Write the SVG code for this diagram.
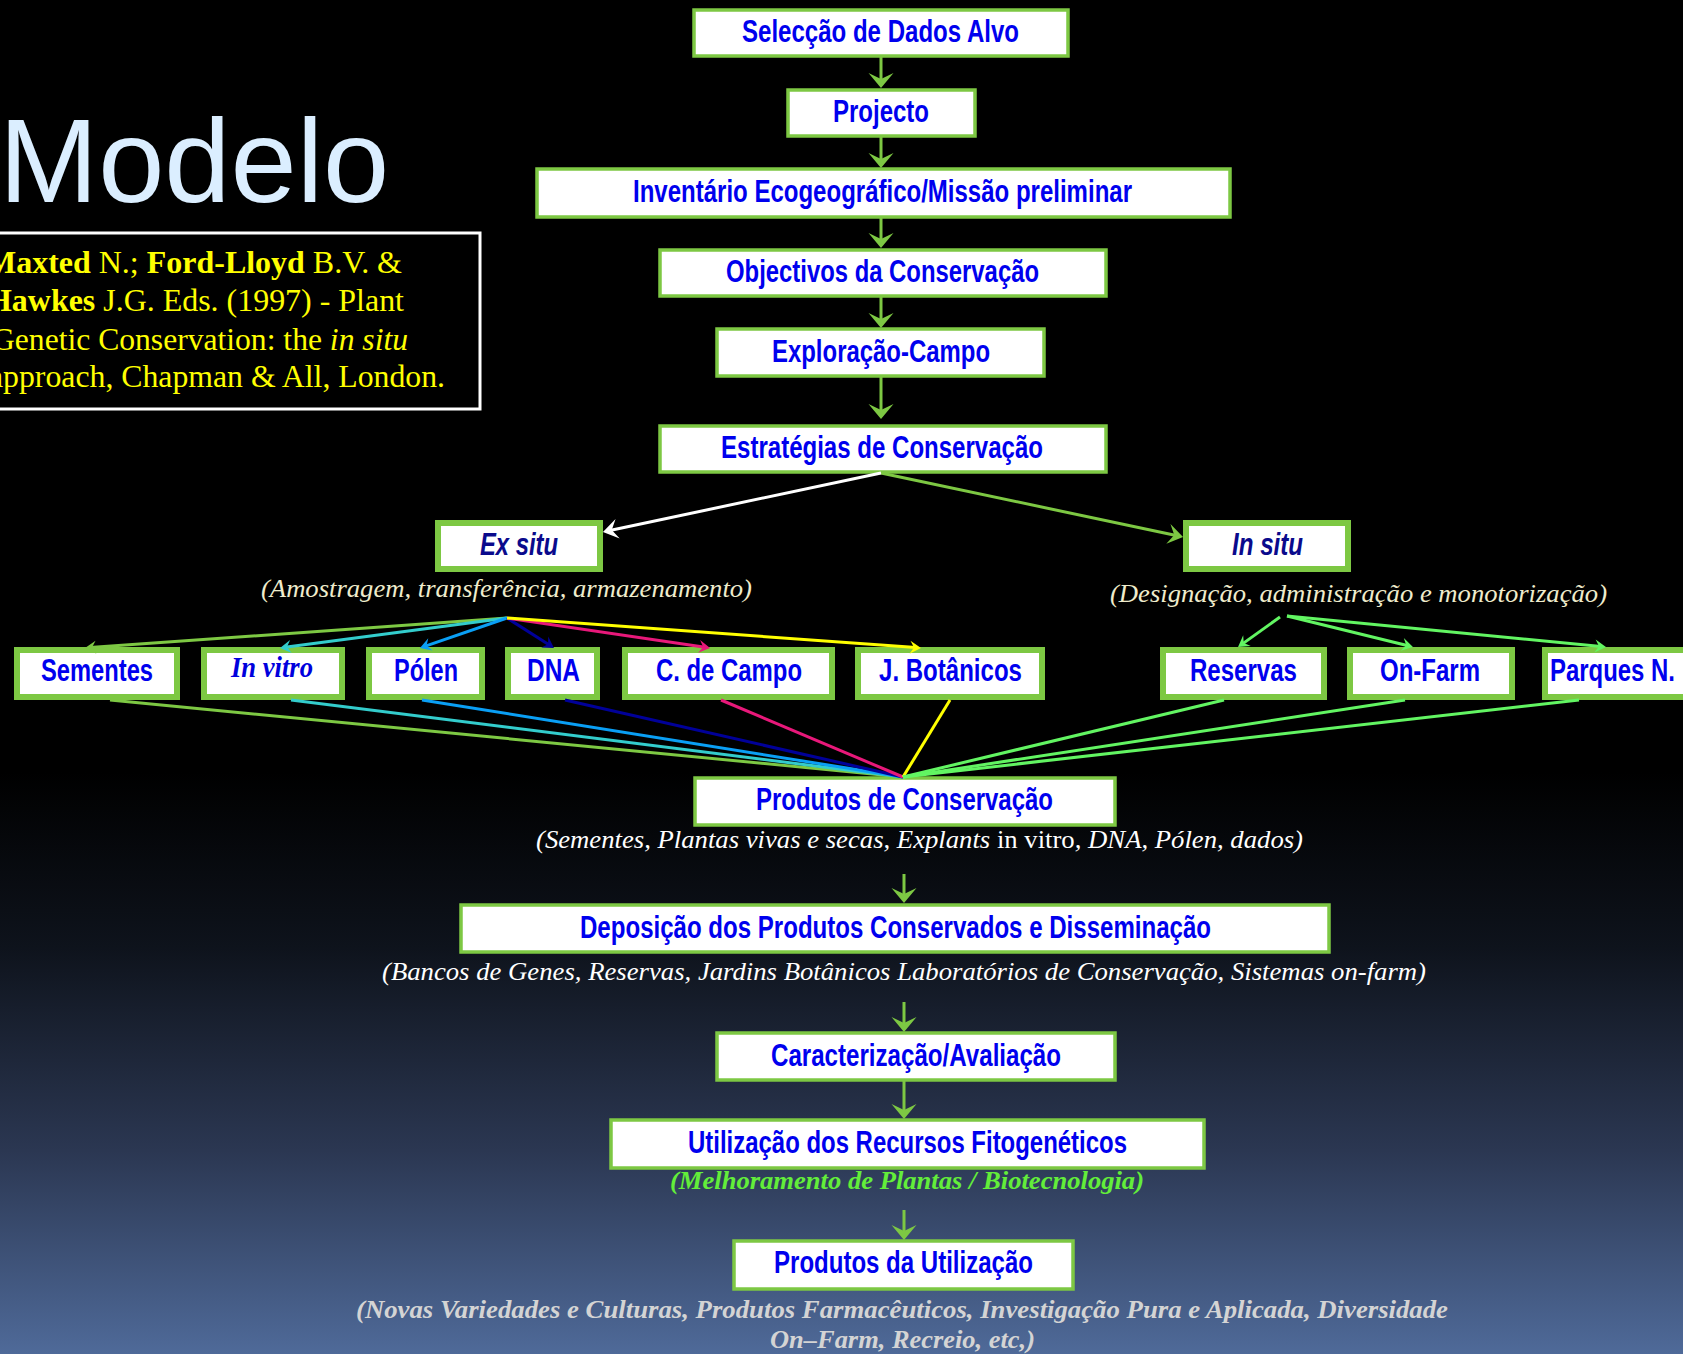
<svg xmlns="http://www.w3.org/2000/svg" width="1683" height="1354" viewBox="0 0 1683 1354">
<defs>
<linearGradient id="bg" x1="0" y1="0" x2="0" y2="1">
<stop offset="0" stop-color="#000000"/>
<stop offset="0.57" stop-color="#000000"/>
<stop offset="0.7" stop-color="#0e131c"/>
<stop offset="0.85" stop-color="#2b3752"/>
<stop offset="1" stop-color="#4f6a99"/>
</linearGradient>
<marker id="aBig" markerUnits="userSpaceOnUse" viewBox="-16 -13 17 26" markerWidth="17" markerHeight="26" refX="-8" refY="0" orient="auto"><path d="M0,0 L-15,-12.5 L-9,0 L-15,12.5 Z" fill="#7dc843"/></marker>
<marker id="aMedW" markerUnits="userSpaceOnUse" viewBox="-16 -11 17 22" markerWidth="17" markerHeight="22" refX="-7" refY="0" orient="auto"><path d="M0,0 L-15,-10 L-9,0 L-15,10 Z" fill="#ffffff"/></marker>
<marker id="aMedG" markerUnits="userSpaceOnUse" viewBox="-16 -11 17 22" markerWidth="17" markerHeight="22" refX="-7" refY="0" orient="auto"><path d="M0,0 L-15,-10 L-9,0 L-15,10 Z" fill="#7dc843"/></marker>
<marker id="sG" markerUnits="userSpaceOnUse" viewBox="-12 -8 13 16" markerWidth="13" markerHeight="16" refX="-5" refY="0" orient="auto"><path d="M0,0 L-11,-6.5 L-7,0 L-11,6.5 Z" fill="#7dc843"/></marker>
<marker id="sC" markerUnits="userSpaceOnUse" viewBox="-12 -8 13 16" markerWidth="13" markerHeight="16" refX="-5" refY="0" orient="auto"><path d="M0,0 L-11,-6.5 L-7,0 L-11,6.5 Z" fill="#33cccc"/></marker>
<marker id="sB" markerUnits="userSpaceOnUse" viewBox="-12 -8 13 16" markerWidth="13" markerHeight="16" refX="-5" refY="0" orient="auto"><path d="M0,0 L-11,-6.5 L-7,0 L-11,6.5 Z" fill="#0a9ff5"/></marker>
<marker id="sN" markerUnits="userSpaceOnUse" viewBox="-12 -8 13 16" markerWidth="13" markerHeight="16" refX="-5" refY="0" orient="auto"><path d="M0,0 L-11,-6.5 L-7,0 L-11,6.5 Z" fill="#000099"/></marker>
<marker id="sM" markerUnits="userSpaceOnUse" viewBox="-12 -8 13 16" markerWidth="13" markerHeight="16" refX="-5" refY="0" orient="auto"><path d="M0,0 L-11,-6.5 L-7,0 L-11,6.5 Z" fill="#e8187a"/></marker>
<marker id="sY" markerUnits="userSpaceOnUse" viewBox="-12 -8 13 16" markerWidth="13" markerHeight="16" refX="-5" refY="0" orient="auto"><path d="M0,0 L-11,-6.5 L-7,0 L-11,6.5 Z" fill="#ffff00"/></marker>
<marker id="sL" markerUnits="userSpaceOnUse" viewBox="-12 -8 13 16" markerWidth="13" markerHeight="16" refX="-5" refY="0" orient="auto"><path d="M0,0 L-11,-6.5 L-7,0 L-11,6.5 Z" fill="#62f562"/></marker>
</defs>
<style>
.box{fill:#ffffff;stroke:#7dc843;stroke-width:3.5}
.thick{stroke-width:6}
.lbl{font-family:"Liberation Sans Narrow","Liberation Sans",Arial,sans-serif;font-weight:bold;font-size:31px;fill:#0000ee}
.navy{fill:#0a0a8c;font-style:italic}
.cap{font-family:"Liberation Serif","Times New Roman",serif;font-style:italic;font-size:26px}
.cite{font-family:"Liberation Serif","Times New Roman",serif;font-size:32px;fill:#ffff00}
.ln{fill:none;stroke-width:3}
</style>
<rect x="0" y="0" width="1683" height="1354" fill="url(#bg)"/>

<g id="title">
<text x="-1" y="202" font-family="Liberation Sans, Arial, sans-serif" font-size="119" fill="#dbeeff">Modelo</text>
</g>

<g id="citation">
<rect x="-10" y="233" width="490" height="176" fill="#000000" stroke="#ffffff" stroke-width="3"/>
<text class="cite" x="-14" y="273" textLength="416" lengthAdjust="spacingAndGlyphs"><tspan font-weight="bold">Maxted</tspan> N.; <tspan font-weight="bold">Ford-Lloyd</tspan> B.V. &amp;</text>
<text class="cite" x="-13" y="311" textLength="417" lengthAdjust="spacingAndGlyphs"><tspan font-weight="bold">Hawkes</tspan> J.G. Eds. (1997) - Plant</text>
<text class="cite" x="-8" y="350" textLength="416" lengthAdjust="spacingAndGlyphs">Genetic Conservation: the <tspan font-style="italic">in situ</tspan></text>
<text class="cite" x="-11" y="387" textLength="456" lengthAdjust="spacingAndGlyphs">approach, Chapman &amp; All, London.</text>
</g>

<g id="n1"><rect class="box" x="694" y="10" width="374" height="46"/><text class="lbl" x="742" y="42" textLength="277" lengthAdjust="spacingAndGlyphs">Selecção de Dados Alvo</text></g>
<g id="n2"><rect class="box" x="788" y="90" width="187" height="46"/><text class="lbl" x="833" y="122" textLength="96" lengthAdjust="spacingAndGlyphs">Projecto</text></g>
<g id="n3"><rect class="box" x="537" y="169" width="693" height="48"/><text class="lbl" x="633" y="202" textLength="499" lengthAdjust="spacingAndGlyphs">Inventário Ecogeográfico/Missão preliminar</text></g>
<g id="n4"><rect class="box" x="660" y="250" width="446" height="46"/><text class="lbl" x="726" y="282" textLength="313" lengthAdjust="spacingAndGlyphs">Objectivos da Conservação</text></g>
<g id="n5"><rect class="box" x="717" y="329" width="327" height="47"/><text class="lbl" x="772" y="362" textLength="218" lengthAdjust="spacingAndGlyphs">Exploração-Campo</text></g>
<g id="n6"><rect class="box" x="660" y="426" width="446" height="46"/><text class="lbl" x="721" y="458" textLength="322" lengthAdjust="spacingAndGlyphs">Estratégias de Conservação</text></g>

<g id="exsitu"><rect class="box thick" x="438" y="523" width="162" height="46"/><text class="lbl navy" x="480" y="555" textLength="78" lengthAdjust="spacingAndGlyphs">Ex situ</text>
<text class="cap" x="261" y="597" fill="#efeccc" textLength="491" lengthAdjust="spacingAndGlyphs">(Amostragem, transferência, armazenamento)</text></g>
<g id="insitu"><rect class="box thick" x="1186" y="523" width="162" height="46"/><text class="lbl navy" x="1232" y="555" textLength="71" lengthAdjust="spacingAndGlyphs">In situ</text>
<text class="cap" x="1110" y="602" fill="#efeccc" textLength="497" lengthAdjust="spacingAndGlyphs">(Designação, administração e monotorização)</text></g>

<g id="sementes"><rect class="box thick" x="17" y="650" width="160" height="47"/><text class="lbl" x="41" y="681" textLength="112" lengthAdjust="spacingAndGlyphs">Sementes</text></g>
<g id="invitro"><rect class="box thick" x="204" y="650" width="138" height="47" stroke="#33cccc"/><text x="231" y="677" font-family="Liberation Serif, Times New Roman, serif" font-style="italic" font-weight="bold" font-size="30" fill="#0000dd" textLength="82" lengthAdjust="spacingAndGlyphs">In vitro</text></g>
<g id="polen"><rect class="box thick" x="369" y="650" width="113" height="47" stroke="#0a9ff5"/><text class="lbl" x="394" y="681" textLength="64" lengthAdjust="spacingAndGlyphs">Pólen</text></g>
<g id="dna"><rect class="box thick" x="508" y="650" width="89" height="47" stroke="#000099"/><text class="lbl" x="527" y="681" textLength="53" lengthAdjust="spacingAndGlyphs">DNA</text></g>
<g id="ccampo"><rect class="box thick" x="625" y="650" width="207" height="47" stroke="#e8187a"/><text class="lbl" x="656" y="681" textLength="146" lengthAdjust="spacingAndGlyphs">C. de Campo</text></g>
<g id="jbot"><rect class="box thick" x="858" y="650" width="184" height="47" stroke="#ffff00"/><text class="lbl" x="879" y="681" textLength="143" lengthAdjust="spacingAndGlyphs">J. Botânicos</text></g>
<g id="reservas"><rect class="box thick" x="1163" y="650" width="161" height="47" stroke="#62f562"/><text class="lbl" x="1190" y="681" textLength="107" lengthAdjust="spacingAndGlyphs">Reservas</text></g>
<g id="onfarm"><rect class="box thick" x="1350" y="650" width="162" height="47" stroke="#62f562"/><text class="lbl" x="1380" y="681" textLength="100" lengthAdjust="spacingAndGlyphs">On-Farm</text></g>
<g id="parques"><rect class="box thick" x="1545" y="650" width="150" height="47" stroke="#62f562"/><text class="lbl" x="1550" y="681" textLength="125" lengthAdjust="spacingAndGlyphs">Parques N.</text></g>

<g id="prodcons"><rect class="box" x="695" y="778" width="420" height="47" stroke-width="5.5"/><text class="lbl" x="756" y="810" textLength="297" lengthAdjust="spacingAndGlyphs">Produtos de Conservação</text>
<text class="cap" x="536" y="848" fill="#ffffff" textLength="767" lengthAdjust="spacingAndGlyphs">(Sementes, Plantas vivas e secas, Explants <tspan font-style="normal">in vitro</tspan>, DNA, Pólen, dados)</text></g>
<g id="deposicao"><rect class="box" x="461" y="905" width="868" height="47"/><text class="lbl" x="580" y="938" textLength="631" lengthAdjust="spacingAndGlyphs">Deposição dos Produtos Conservados e Disseminação</text>
<text class="cap" x="382" y="980" fill="#ffffff" textLength="1044" lengthAdjust="spacingAndGlyphs">(Bancos de Genes, Reservas, Jardins Botânicos Laboratórios de Conservação, Sistemas on-farm)</text></g>
<g id="caract"><rect class="box" x="717" y="1033" width="398" height="47"/><text class="lbl" x="771" y="1066" textLength="290" lengthAdjust="spacingAndGlyphs">Caracterização/Avaliação</text></g>
<g id="utilizacao"><rect class="box" x="611" y="1120" width="593" height="48"/><text class="lbl" x="688" y="1153" textLength="439" lengthAdjust="spacingAndGlyphs">Utilização dos Recursos Fitogenéticos</text>
<text class="cap" x="670" y="1189" fill="#63ee3a" font-weight="bold" font-size="27" textLength="474" lengthAdjust="spacingAndGlyphs">(Melhoramento de Plantas / Biotecnologia)</text></g>
<g id="produtil"><rect class="box" x="734" y="1241" width="339" height="48"/><text class="lbl" x="774" y="1273" textLength="259" lengthAdjust="spacingAndGlyphs">Produtos da Utilização</text>
<text class="cap" x="356" y="1318" fill="#d4d4d4" font-weight="bold" font-size="27" textLength="1092" lengthAdjust="spacingAndGlyphs">(Novas Variedades e Culturas, Produtos Farmacêuticos, Investigação Pura e Aplicada, Diversidade</text>
<text class="cap" x="770" y="1348" fill="#d4d4d4" font-weight="bold" font-size="27" textLength="265" lengthAdjust="spacingAndGlyphs">On–Farm, Recreio, etc,)</text></g>

<g id="connectors">
<g stroke="#7dc843" class="ln">
<path d="M881,57 V80" marker-end="url(#aBig)"/>
<path d="M881,137 V160" marker-end="url(#aBig)"/>
<path d="M881,218 V240" marker-end="url(#aBig)"/>
<path d="M881,297 V320" marker-end="url(#aBig)"/>
<path d="M881,377 V411" marker-end="url(#aBig)"/>
<path d="M904,874 V895" marker-end="url(#aBig)"/>
<path d="M904,1002 V1024" marker-end="url(#aBig)"/>
<path d="M904,1081 V1111" marker-end="url(#aBig)"/>
<path d="M904,1210 V1232" marker-end="url(#aBig)"/>
<path d="M881,473 L1176.2,535.5" marker-end="url(#aMedG)"/>
</g>
<path class="ln" stroke="#ffffff" d="M881,473 L609.8,530.5" marker-end="url(#aMedW)"/>
<path class="ln" stroke="#7dc843" d="M507,618 L90,647.6" marker-end="url(#sG)"/>
<path class="ln" stroke="#33cccc" d="M507,618 L285,647.3" marker-end="url(#sC)"/>
<path class="ln" stroke="#0a9ff5" d="M507,618 L424.7,646.4" marker-end="url(#sB)"/>
<path class="ln" stroke="#000099" d="M507,618 L549.8,645.3" marker-end="url(#sN)"/>
<path class="ln" stroke="#e8187a" d="M507,618 L705.1,647.3" marker-end="url(#sM)"/>
<path class="ln" stroke="#ffff00" d="M507,618 L916,647.6" marker-end="url(#sY)"/>
<path class="ln" stroke="#62f562" d="M1280,617 L1242.1,644.1" marker-end="url(#sL)"/>
<path class="ln" stroke="#62f562" d="M1287,616 L1408.1,645.8" marker-end="url(#sL)"/>
<path class="ln" stroke="#62f562" d="M1287,616 L1601,646.5" marker-end="url(#sL)"/>
<path class="ln" stroke="#7dc843" d="M110,700 L903,777"/>
<path class="ln" stroke="#33cccc" d="M291,700 L903,777"/>
<path class="ln" stroke="#0a9ff5" d="M422,700 L903,777"/>
<path class="ln" stroke="#000099" d="M565,700 L903,777"/>
<path class="ln" stroke="#e8187a" d="M721,700 L903,777"/>
<path class="ln" stroke="#ffff00" d="M950,700 L903,777"/>
<path class="ln" stroke="#62f562" d="M1224,700 L903,777"/>
<path class="ln" stroke="#62f562" d="M1405,700 L903,777"/>
<path class="ln" stroke="#62f562" d="M1579,700 L903,777"/>
</g>
</svg>
